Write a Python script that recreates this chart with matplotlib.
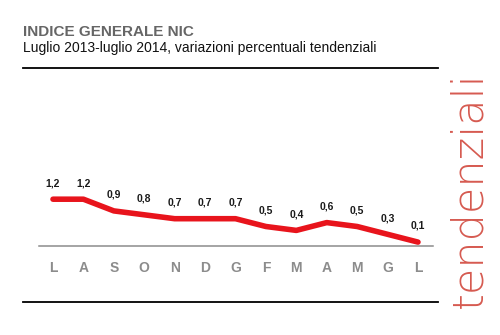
import matplotlib
matplotlib.use("Agg")
import matplotlib.pyplot as plt
from matplotlib.lines import Line2D

plt.rcParams['font.family'] = ['Liberation Sans', 'DejaVu Sans']

# months Jul 2013 - Jul 2014 (Italian initials)
months = ['L', 'A', 'S', 'O', 'N', 'D', 'G', 'F', 'M', 'A', 'M', 'G', 'L']
values = [1.2, 1.2, 0.9, 0.8, 0.7, 0.7, 0.7, 0.5, 0.4, 0.6, 0.5, 0.3, 0.1]
labels = ['1,2', '1,2', '0,9', '0,8', '0,7', '0,7', '0,7', '0,5', '0,4', '0,6', '0,5', '0,3', '0,1']

W, H = 500, 335
fig = plt.figure(figsize=(W / 100, H / 100), dpi=100)

# chart area
ax = fig.add_axes([39.3 / W, 89 / H, 393.9 / W, 58.5 / H])
x = list(range(len(values)))
ax.plot(x, values, color='#e8141c', lw=4, solid_capstyle='round', solid_joinstyle='round')
for xi, v, lab in zip(x, values, labels):
    ax.annotate(lab, (xi, v), xytext=(0, 8), textcoords='offset points',
                ha='center', va='bottom', fontsize=7.5, fontweight='bold', color='#1a1a1a')

ax.set_xlim(-0.45, 12.5)
ax.set_ylim(0, 1.5)
ax.set_xticks(x)
ax.set_xticklabels(months, fontsize=10, fontweight='bold', color='#8c8c8c')
ax.tick_params(axis='x', length=0, pad=11)
ax.set_yticks([])
for s in ['top', 'left', 'right']:
    ax.spines[s].set_visible(False)
ax.spines['bottom'].set_color('#8c8c8c')
ax.spines['bottom'].set_linewidth(1.1)

# titles
fig.text(23 / W, 1 - 32 / H, 'INDICE GENERALE NIC', fontsize=11, fontweight='bold',
         color='#666666', va='center', ha='left')
fig.text(23 / W, 1 - 48 / H, 'Luglio 2013-luglio 2014, variazioni percentuali tendenziali',
         fontsize=10, color='#111111', va='center', ha='left')

# horizontal rules
fig.add_artist(Line2D([23 / W, 438 / W], [1 - 68 / H, 1 - 68 / H], color='black', lw=1.3))
fig.add_artist(Line2D([23 / W, 438 / W], [1 - 302 / H, 1 - 302 / H], color='black', lw=1.3))

# vertical decorative word
fig.text(469 / W, 1 - 308 / H, 'tendenziali', rotation=90, fontsize=31,
         family=['DejaVu Sans'], fontweight='ultralight', color='#d65a50',
         ha='center', va='bottom')

fig.savefig('out.png', dpi=100, facecolor='white')
